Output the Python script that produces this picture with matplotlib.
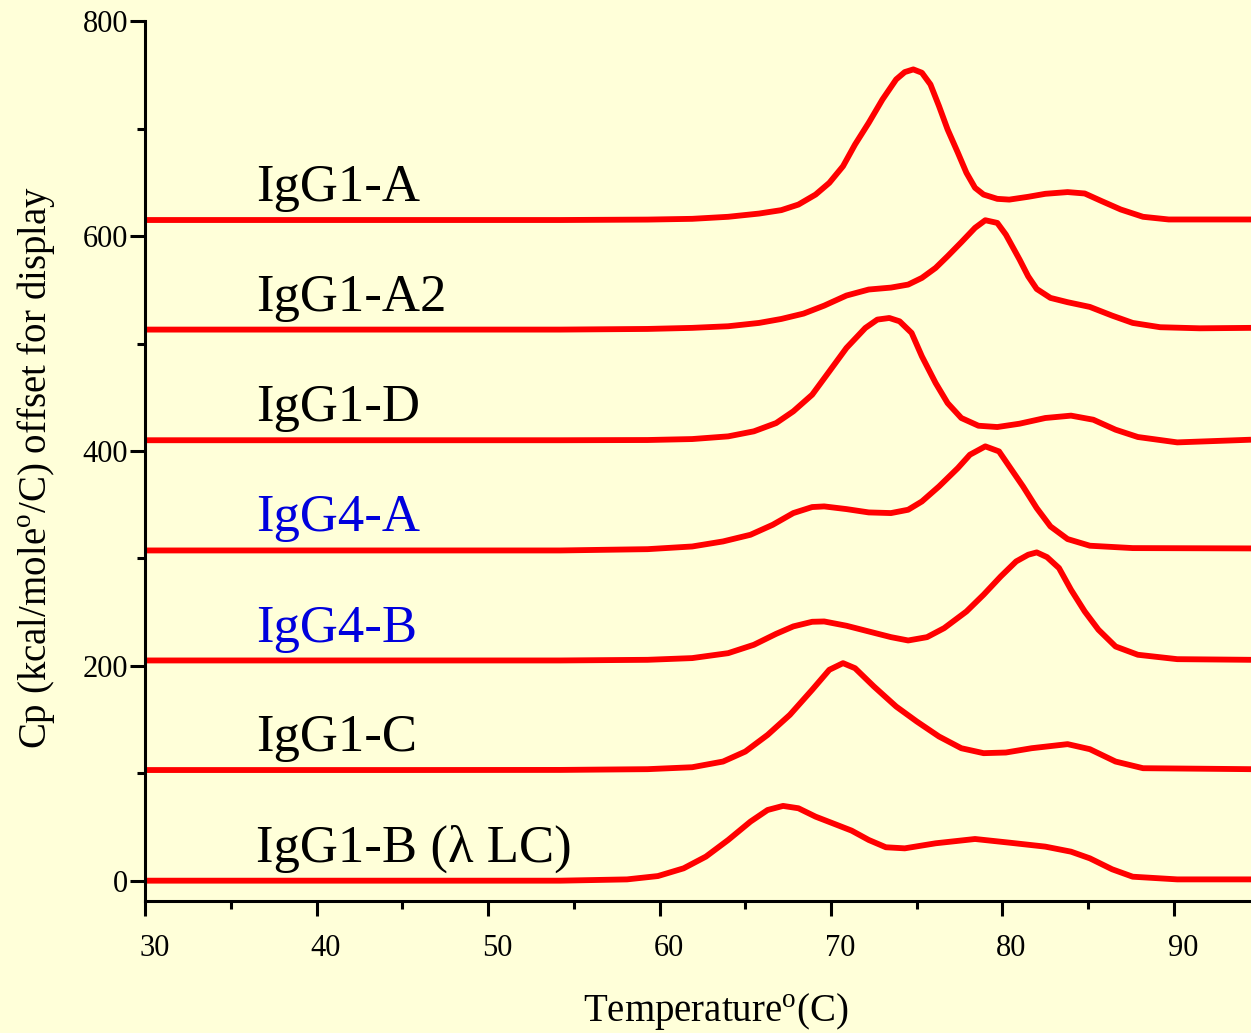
import matplotlib
matplotlib.use("Agg")
import matplotlib.pyplot as plt
from matplotlib.transforms import ScaledTranslation

# DSC thermograms, Cp in kcal/mole/C, stacked with a fixed offset per antibody
names = ["IgG1-B (\u03bb LC)", "IgG1-C", "IgG4-B", "IgG4-A", "IgG1-D", "IgG1-A2", "IgG1-A"]
offsets = [0, 103, 205, 308, 410, 513, 615]
name_colors = ["black", "black", "#0000dd", "#0000dd", "black", "black", "black"]

temp_igg1_b = [30, 45, 54.2, 58.1, 59.9, 61.4, 62.7, 64.0, 65.3, 66.3, 67.2, 68.1, 69.1,
               70.2, 71.2, 72.2, 73.2, 74.3, 76.1, 78.4, 80.4, 82.5, 84.0, 85.1, 86.4,
               87.6, 90.2, 94.5]
cp_igg1_b = [0, 0, 0, 1.2, 4.3, 11.5, 22.4, 37.9, 55, 65.8, 69.6, 67.4, 59.6,
             52.8, 46.6, 37.9, 31.1, 30.1, 34.8, 38.8, 35.4, 31.7, 27, 20.8, 10.6,
             3.7, 1.2, 1.2]

temp_igg1_c = [30, 45, 54.2, 59.3, 61.9, 63.7, 65.0, 66.3, 67.6, 68.9, 69.9, 70.7,
               71.4, 72.5, 73.8, 75.0, 76.3, 77.6, 78.9, 80.2, 81.7, 83.8, 85.1, 86.6,
               88.2, 94.5]
cp_igg1_c = [0, 0, 0.1, 0.8, 2.6, 7.9, 17.2, 32.7, 51.4, 74.7, 93.3, 99.5,
             94.8, 77.8, 59.1, 45.2, 31.2, 20.3, 15.7, 16.3, 20.3, 24.1, 19.4, 7.9,
             1.7, 0.8]

temp_igg4_b = [30, 45, 54.2, 59.3, 61.9, 64.0, 65.5, 66.8, 67.8, 68.9, 69.6, 70.9,
               72.2, 73.5, 74.5, 75.6, 76.6, 77.9, 78.9, 79.9, 80.8, 81.5, 82.0, 82.6,
               83.3, 84.0, 84.8, 85.6, 86.6, 87.9, 90.2, 94.5]
cp_igg4_b = [0, 0, 0, 0.6, 2.2, 6.8, 14.6, 24.8, 31.7, 36, 36.3, 32.3,
             27, 21.7, 18.6, 21.7, 30.1, 45.6, 61.2, 78.2, 92.2, 98.4, 100.6, 96.2,
             86, 65.8, 45.6, 28.6, 13, 5.3, 1.2, 0.6]

temp_igg4_a = [30, 45, 54.2, 59.3, 61.9, 63.7, 65.3, 66.6, 67.8, 68.9, 69.6, 70.9,
               72.2, 73.5, 74.5, 75.3, 76.3, 77.4, 78.1, 79.0, 79.8, 80.4, 81.2, 82.0,
               82.8, 83.8, 85.1, 87.6, 94.5]
cp_igg4_a = [-0.6, -0.6, -0.6, 0.6, 3.1, 7.8, 14, 23.3, 34.2, 39.8, 40.4, 37.9,
             34.8, 34.2, 37.3, 45, 59, 76.1, 88.5, 96.3, 91.6, 77.6, 59, 38.8,
             21.8, 10, 3.8, 1.6, 1.3]

temp_igg1_d = [30, 45, 54.2, 59.3, 61.9, 64.0, 65.5, 66.8, 67.8, 68.9, 69.9, 70.9,
               72.0, 72.7, 73.4, 74.0, 74.7, 75.3, 76.1, 76.8, 77.6, 78.6, 79.7, 81.0,
               82.5, 84.0, 85.3, 86.6, 87.9, 90.2, 94.5]
cp_igg1_d = [0, 0, 0, 0.2, 1.1, 3.6, 8.3, 16, 26.9, 42.4, 64.1, 85.9,
             104.5, 112.3, 113.8, 110.7, 99.9, 78.1, 53.3, 34.6, 20.7, 13.5, 12.3, 15.4,
             20.7, 22.9, 19.1, 9.8, 3, -2, 0.5]

temp_igg1_a2 = [30, 45, 54.2, 59.3, 61.9, 64.0, 65.8, 67.1, 68.4, 69.6, 70.9, 72.2,
                73.5, 74.5, 75.3, 76.1, 76.8, 77.6, 78.4, 79.0, 79.7, 80.2, 81.0, 81.5,
                82.0, 82.8, 83.8, 85.1, 86.4, 87.6, 89.2, 91.5, 94.5]
cp_igg1_a2 = [0, 0, 0, 0.6, 1.6, 3.1, 6.2, 9.9, 14.9, 22.3, 31.7, 37.3,
              39.1, 41.9, 48.1, 57.4, 68.3, 81.3, 94.7, 101.8, 99.3, 88.4, 65.2, 49.6,
              37.8, 29.5, 25.5, 21.1, 13, 6.2, 2.2, 1.2, 1.6]

temp_igg1_a = [30, 45, 54.2, 59.3, 61.9, 64.0, 65.8, 67.1, 68.1, 69.1, 69.9, 70.7,
               71.4, 72.2, 73.0, 73.8, 74.3, 74.8, 75.3, 75.8, 76.3, 76.8, 77.4, 77.9,
               78.4, 78.9, 79.7, 80.4, 81.5, 82.5, 83.8, 84.8, 85.8, 86.9, 88.2, 89.7, 94.5]
cp_igg1_a = [0, 0, 0, 0.4, 1.1, 3, 6, 9.2, 14.4, 23.7, 34.6, 50.1,
             70.3, 90.5, 112.2, 130.9, 137.7, 140.2, 137.1, 126.2, 106, 84.3, 62.6, 43.9,
             30, 23.7, 19.7, 19, 21.6, 24.4, 26, 24.7, 17.5, 9.8, 3, 0.5, 0.5]

temps = [temp_igg1_b, temp_igg1_c, temp_igg4_b, temp_igg4_a, temp_igg1_d, temp_igg1_a2, temp_igg1_a]
cps = [cp_igg1_b, cp_igg1_c, cp_igg4_b, cp_igg4_a, cp_igg1_d, cp_igg1_a2, cp_igg1_a]

bg = "#ffffd9"
plt.rcParams["font.family"] = ["Liberation Serif", "DejaVu Serif"]
plt.rcParams["mathtext.fontset"] = "custom"
plt.rcParams["mathtext.rm"] = "Liberation Serif"

fig = plt.figure(figsize=(12.51, 10.33), dpi=100, facecolor=bg)
ax = fig.add_axes([0.1162, 0.1278, 0.8838, 0.8516], facecolor=bg)

for t, cp, off, name, col in zip(temps, cps, offsets, names, name_colors):
    ax.plot(t, [v + off for v in cp], color="#ff0000", linewidth=4.2,
            solid_capstyle="butt", solid_joinstyle="round")
    ax.text(36.46, off + 17.5, name, fontsize=38, color=col, va="baseline", ha="left")

ax.set_xlim(30, 94.5)
ax.set_ylim(-18.9, 800)
ax.set_xticks(range(30, 91, 10))
ax.set_xticks(range(35, 95, 10), minor=True)
ax.set_yticks(range(0, 801, 200))
ax.set_yticks(range(100, 800, 200), minor=True)

for side in ["top", "right"]:
    ax.spines[side].set_visible(False)
for side in ["left", "bottom"]:
    ax.spines[side].set_linewidth(2.2)

ax.tick_params(axis="both", which="major", length=11, width=2.2, labelsize=22, direction="out")
ax.tick_params(axis="both", which="minor", length=5.5, width=2.2, direction="out")
ax.tick_params(axis="y", which="major", pad=1.5)
ax.tick_params(axis="x", which="major", pad=13)

# x tick numbers sit a little to the right of their ticks
shift = ScaledTranslation(9 / 100, 0, fig.dpi_scale_trans)
for lbl in ax.get_xticklabels():
    lbl.set_transform(lbl.get_transform() + shift)

ax.set_xlabel("Temperature$^{\\mathrm{o}}$(C)", fontsize=28)
ax.xaxis.label.set_va("baseline")
ax.xaxis.set_label_coords(0.516, -0.1375)
ax.set_ylabel("Cp (kcal/mole$^{\\mathrm{o}}$/C) offset for display", fontsize=28)
ax.yaxis.set_label_coords(-0.080, 0.493)

fig.savefig("out.png", dpi=100, facecolor=bg)
